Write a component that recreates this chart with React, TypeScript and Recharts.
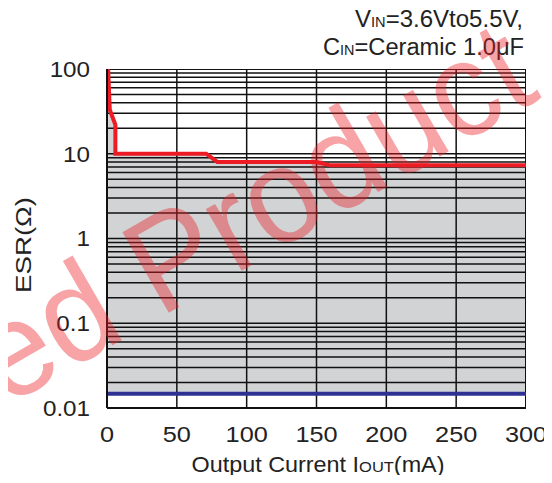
import React from 'react';
import {
  ComposedChart,
  Area,
  Line,
  XAxis,
  YAxis,
} from 'recharts';

// stable region upper bound (red) and lower bound (blue)
const CURRENT_MA = [0.8, 2, 6, 6, 71, 79, 150, 160, 300];
const ESR_MAX = [100, 33, 22, 10, 10, 8, 8, 7.3, 7.3];
const ESR_MIN = 0.0147;

const X_TICKS = [0, 50, 100, 150, 200, 250, 300];
const Y_TICKS = [0.01, 0.1, 1, 10, 100];
const Y_TICK_LABELS = ['0.01', '0.1', '1', '10', '100'];
const DECADES = [0.01, 0.1, 1, 10];
const MINOR = [1, 2, 3, 4, 5, 6, 7, 8, 9];

const FONT = '"Liberation Sans", Arial, Helvetica, sans-serif';
const W = 536;
const H = 467;

const data = CURRENT_MA.map((x, i) => ({
  x,
  max: ESR_MAX[i],
  range: [ESR_MIN, ESR_MAX[i]],
}));
const minLine = [
  { x: 0, min: ESR_MIN },
  { x: 300, min: ESR_MIN },
];
const gridY = [...DECADES.flatMap((d) => MINOR.map((m) => +(d * m).toPrecision(3))), 100];
const hLines = gridY.map((v) => [
  { x: 0, g: v },
  { x: 300, g: v },
]);
const vLines = X_TICKS.map((v) => [
  { x: v, g: 0.01 },
  { x: v, g: 100 },
]);

const XTick = ({ x, y, payload }: any) => (
  <text
    transform={`translate(${x},${y + 34}) scale(1.15,1)`}
    textAnchor="middle"
    fontSize={22}
    fontFamily={FONT}
    fill="#222"
  >
    {payload.value}
  </text>
);

const YTick = ({ x, y, payload }: any) => {
  const i = Y_TICKS.indexOf(payload.value);
  return (
    <text
      transform={`translate(${x - 17},${y}) scale(1.1,1)`}
      textAnchor="end"
      dy="0.355em"
      fontSize={22}
      fontFamily={FONT}
      fill="#222"
    >
      {Y_TICK_LABELS[i] ?? payload.value}
    </text>
  );
};

export default function App() {
  return (
    <div style={{ width: W, height: H, position: 'relative' }}>
      <ComposedChart
        width={W}
        height={H}
        data={data}
        margin={{ top: 61, right: 18, bottom: 37, left: 39 }}
      >
        <XAxis
          dataKey="x"
          type="number"
          domain={[0, 300]}
          ticks={X_TICKS}
          height={30}
          tickSize={0}
          tickMargin={0}
          tick={<XTick />}
          axisLine={{ stroke: '#111', strokeWidth: 2 }}
          allowDataOverflow
        />
        <YAxis
          type="number"
          scale="log"
          domain={[0.01, 100]}
          ticks={Y_TICKS}
          width={60}
          tickSize={0}
          tickMargin={0}
          tick={<YTick />}
          axisLine={{ stroke: '#111', strokeWidth: 2 }}
          allowDataOverflow
        />
        <Area
          dataKey="range"
          type="linear"
          stroke="none"
          fill="#d1d3d4"
          fillOpacity={1}
          isAnimationActive={false}
        />
        {hLines.map((pts, i) => (
          <Line
            key={`h${i}`}
            data={pts}
            dataKey="g"
            stroke="#111"
            strokeWidth={i === 0 || i === hLines.length - 1 ? 2 : 1.5}
            dot={false}
            activeDot={false}
            legendType="none"
            isAnimationActive={false}
          />
        ))}
        {vLines.map((pts, i) => (
          <Line
            key={`v${i}`}
            data={pts}
            dataKey="g"
            stroke="#111"
            strokeWidth={i === 0 || i === vLines.length - 1 ? 2 : 1.5}
            dot={false}
            activeDot={false}
            legendType="none"
            isAnimationActive={false}
          />
        ))}
        <Line
          data={minLine}
          dataKey="min"
          type="linear"
          stroke="#2e3192"
          strokeWidth={4}
          dot={false}
          isAnimationActive={false}
        />
        <Line
          dataKey="max"
          type="linear"
          stroke="#ed1c24"
          strokeWidth={4}
          dot={false}
          isAnimationActive={false}
        />
        <text
          x={23}
          y={237}
          transform="rotate(-90 23 237)"
          textAnchor="middle"
          fontSize={22}
          fontFamily={FONT}
          fill="#222"
          textLength={96}
          lengthAdjust="spacingAndGlyphs"
        >
          ESR(Ω)
        </text>
        <text
          x={310}
          y={463.5}
          textAnchor="middle"
          fontSize={22}
          fontFamily={FONT}
          fill="#222"
          textLength={253}
          lengthAdjust="spacingAndGlyphs"
        >
          Output Current I<tspan fontSize={15.5}>OUT</tspan>(mA)
        </text>
        <text
          x={515}
          y={18.7}
          textAnchor="end"
          fontSize={23}
          fontFamily={FONT}
          fill="#222"
          textLength={168}
          lengthAdjust="spacingAndGlyphs"
        >
          V<tspan fontSize={14}>IN</tspan>=3.6Vto5.5V,
        </text>
        <text
          x={516}
          y={46.5}
          textAnchor="end"
          fontSize={23}
          fontFamily={FONT}
          fill="#222"
          textLength={201}
          lengthAdjust="spacingAndGlyphs"
        >
          C<tspan fontSize={14}>IN</tspan>=Ceramic 1.0μF
        </text>
      </ComposedChart>
      {/* watermark over everything */}
      <svg
        width={W}
        height={H}
        style={{ position: 'absolute', left: 0, top: 0, pointerEvents: 'none' }}
      >
        <g transform="translate(152,310) rotate(-30) scale(0.95,1)">
          <text
            x={465}
            y={0}
            textAnchor="end"
            fontSize={135}
            fontFamily={FONT}
            fill="#ed1c24"
            fillOpacity={0.4}
          >
            Discontinued Product
          </text>
        </g>
      </svg>
    </div>
  );
}
